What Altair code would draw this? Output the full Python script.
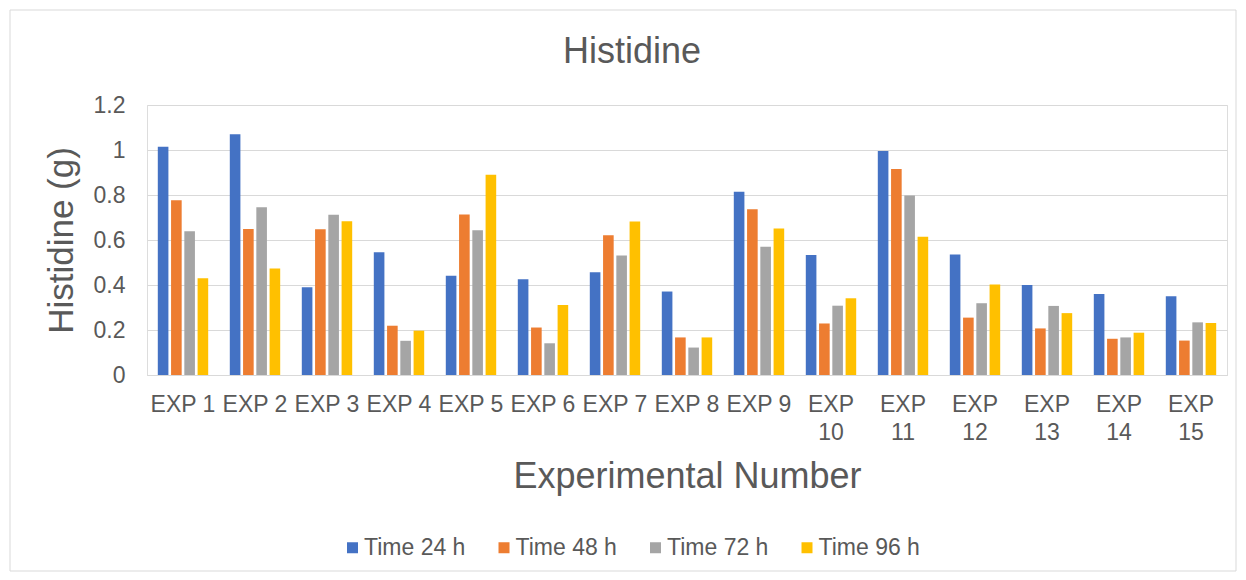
import altair as alt
import pandas as pd

experiments = [f"EXP {i}" for i in range(1, 16)]
series_names = ["Time 24 h", "Time 48 h", "Time 72 h", "Time 96 h"]
t24 = [1.014, 1.070, 0.390, 0.546, 0.441, 0.426, 0.457, 0.371, 0.814, 0.533, 0.996, 0.536, 0.400, 0.360, 0.350]
t48 = [0.777, 0.649, 0.648, 0.219, 0.713, 0.211, 0.621, 0.167, 0.737, 0.229, 0.916, 0.255, 0.207, 0.161, 0.153]
t72 = [0.639, 0.746, 0.712, 0.152, 0.643, 0.141, 0.531, 0.122, 0.570, 0.308, 0.798, 0.319, 0.307, 0.167, 0.234]
t96 = [0.430, 0.473, 0.683, 0.197, 0.890, 0.311, 0.682, 0.167, 0.651, 0.341, 0.615, 0.402, 0.275, 0.188, 0.231]
colors = ["#4472C4", "#ED7D31", "#A5A5A5", "#FFC000"]
y_ticks = [0, 0.2, 0.4, 0.6, 0.8, 1, 1.2]

rows = []
for name, vals in zip(series_names, [t24, t48, t72, t96]):
    for e, v in zip(experiments, vals):
        rows.append({"exp": e, "series": name, "value": v})
df = pd.DataFrame(rows)

FONT = "Liberation Sans"
TXT = "#595959"

bars = alt.Chart(df).mark_bar().encode(
    x=alt.X("exp:N", sort=experiments,
            scale=alt.Scale(paddingInner=0.3, paddingOuter=0.15),
            axis=alt.Axis(title="Experimental Number", labelAngle=0, labelFontSize=23,
                          labelColor=TXT, labelFont=FONT, labelPadding=18,
                          labelOverlap=False, labelLineHeight=28.5,
                          labelExpr="length(datum.label) > 5 ? split(datum.label, ' ') : datum.label",
                          ticks=False, domainColor="#D9D9D9", domainWidth=1,
                          titleFontSize=36, titleFont=FONT, titleColor=TXT,
                          titleFontWeight="normal", titleX=540, titleY=112,
                          titleBaseline="alphabetic", titleAlign="center")),
    xOffset=alt.XOffset("series:N", sort=series_names,
                        scale=alt.Scale(paddingInner=0.2, paddingOuter=0)),
    y=alt.Y("value:Q", scale=alt.Scale(domain=[0, 1.2], nice=False),
            axis=alt.Axis(title="Histidine (g)", values=y_ticks, format="~g",
                          labelFontSize=23, labelColor=TXT, labelFont=FONT,
                          labelPadding=22, ticks=False, domain=False,
                          gridColor="#D9D9D9", gridWidth=1,
                          titleFontSize=35, titleFont=FONT, titleColor=TXT,
                          titleFontWeight="normal", titleX=-75, titleY=135,
                          titleAngle=-90, titleBaseline="alphabetic", titleAlign="center")),
    color=alt.Color("series:N", sort=series_names,
                    scale=alt.Scale(domain=series_names, range=colors),
                    legend=alt.Legend(title=None, orient="none", legendX=194, legendY=431,
                                      direction="horizontal", symbolType="square",
                                      symbolSize=121, symbolStrokeWidth=0,
                                      labelFontSize=23, labelFont=FONT, labelColor=TXT,
                                      labelOffset=0, columnPadding=26.5)),
)

border = alt.Chart(pd.DataFrame({"a": [0]})).mark_rect(
    filled=False, stroke="#D9D9D9", strokeWidth=1
).encode(x=alt.value(-137), x2=alt.value(1089), y=alt.value(-95), y2=alt.value(466))

chart = alt.layer(border, bars).properties(
    width=1080, height=270,
    title=alt.TitleParams(text="Histidine", fontSize=36, font=FONT, color=TXT,
                          fontWeight="normal", anchor="middle", frame="group", dx=-55,
                          baseline="alphabetic", offset=0, dy=89),
    autosize=alt.AutoSizeParams(type="none"),
    padding={"left": 147, "top": 105, "right": 19, "bottom": 205},
).configure_view(stroke=None).configure(background="white")

chart.save("out.html", embed_options={"renderer": "svg", "actions": False})
